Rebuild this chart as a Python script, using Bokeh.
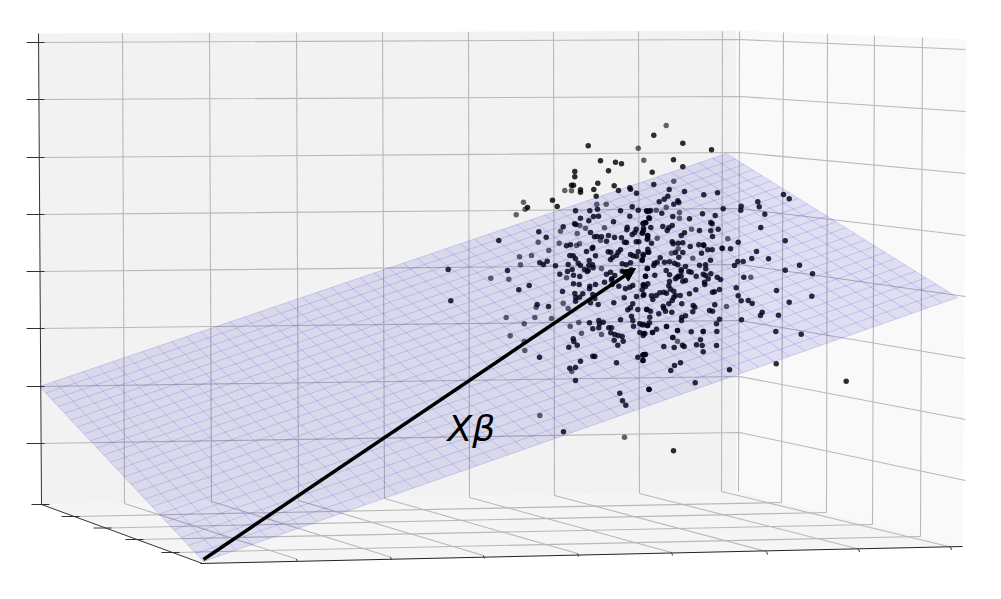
import numpy as np
from bokeh.plotting import figure
from bokeh.models import Range1d, Arrow, NormalHead
from bokeh.core.properties import value
from bokeh.embed import file_html
from bokeh.resources import INLINE

# ---------- wall outlines ----------
left_wall_x = [38, 736, 736, 41]
left_wall_y = [33, 30, 491, 504]
right_wall_x = [736, 966, 962, 736]
right_wall_y = [30, 39, 546, 491]
floor_x = [41, 736, 962, 202]
floor_y = [504, 491, 546, 563]

# ---------- grid readings ----------
wall_v_top_x = [122, 209, 296, 382, 468, 553, 638, 722]
wall_v_top_y = [32.5, 32.3, 32, 31.8, 31.5, 31.2, 31, 30.7]
wall_v_bot_x = [124, 211, 298, 384, 469, 554, 639, 721]
wall_v_bot_y = [503, 501, 500, 498, 497, 495, 493, 491]
side_v_top_x = [739, 783, 827, 874, 922]
side_v_top_y = [31, 32, 33.5, 35, 37]
side_v_bot_x = [738, 781, 826, 872, 920]
side_v_bot_y = [491, 502, 512, 524, 536]
z_left_y = [42, 99, 157, 214, 271, 328, 386, 443]
z_mid_y = [39, 96, 152, 208, 264, 320, 376, 432]
z_right_y = [49, 111, 173, 235, 296, 358, 419, 480]
floor_front_x = [296, 390, 483, 577, 671, 766, 858, 950]
floor_front_y = [558.5, 556.5, 555, 553, 552, 551, 548.5, 546.5]
floor_side_x = [75, 107, 139, 175]
floor_side_y = [516, 527.5, 539, 552]

# ---------- plane corners ----------
plane_x = [39, 726, 957, 203]
plane_y = [386, 153, 297, 561]
mesh_cells_long = 48
mesh_cells_short = 24

# ---------- scatter ----------
dark_x = [587.7,600,615,621,608,574.3,574.3,571,573,580,580,593.3,597.3,613.7,618,629.3,630,636,595.7,527,552,556.7,575,589.3,597,620,631.7,637.7,646.7,650,629.3,598,593,580,588.3,574,575.3,562.7,613,590,626.7,626.3,635.7,631.7,634.3,642.7,645,648.3,643,642,647.3,646.7,538.3,545.7,498.3,566,570,594,596.7,601,608,614,621,606,624,626,635.7,638.3,592.3,591.7,586,595,607.7,610.3,620,617.7,616,612.3,610,630,632.7,636,637.7,642.7,641.7,647.3,569.3,572.7,575,539.3,543,546.7,555,567.7,571.7,567,577.7,580,588.7,584,587.7,592,592.7,588.3,621.7,625.7,630,630.7,621.7,647,447.7,507,559.3,573,579.3,586.7,606,610,614.3,611.3,645,653.3,682.3,711,673,682.3,651.7,653.3,668.7,684,703.3,717,783,788.7,757.3,758.7,764.3,740.7,740.3,722.7,667.3,663.7,658.7,677.3,678.3,673.3,646,648.3,661.3,702,714.7,672.3,689,649,645.3,642.7,710.3,711.7,662.3,671.7,668.3,666.7,650.3,699,710.3,717.7,760.3,643,641.7,684,680.7,647,647.3,712,737.7,784.7,671.7,672.7,677.7,682.3,651,698.3,703,703.3,689.7,707.3,711.7,721.7,730,647.3,648.3,675,682.3,678.3,701,756,751.3,768,710,642.7,641.7,659.7,656.7,654,653.3,664,669,674,677.3,685,680.7,699,705,705.3,737.3,742.7,734,646.7,665.7,680.7,688.3,690.7,710.3,702.7,705,695.7,799,784.7,812,645,654.3,669,677.7,680.7,676.7,675,716.7,720,707.7,743.3,450.3,528.7,518.3,536.7,548,539,563,562,573,578.7,574.3,582.3,579,575.3,575,589.3,595,589,592.3,594.3,590,597.7,604,611,611.7,618.3,625,629.3,632.3,643,641.7,643.3,636,623.7,613.3,632.3,630,627.3,637.3,646,620,631,632.3,633,589,598.3,599,602.7,592.3,598.3,608.3,611,610.3,614.3,617.7,621.7,613.7,622.7,617.3,639.3,643.3,647.3,639.3,643.3,572.7,573.3,576.7,568.3,592.3,594.3,580,616,637.3,642.3,644.3,642.7,569.3,575,575,648.3,619.3,622,625.3,704,704.3,669,682.3,685,668.3,642.7,647.3,645,670,673.3,695.3,689,712,714,719,735.7,737.7,740.7,747.7,751.7,776,788.7,811.3,651,659.3,663.3,666,655.7,652.3,642.7,675,679.7,673.3,671.7,668.3,681.3,662.7,663.3,646.7,650,658.3,665,671.3,692.7,694.3,714.3,692.3,709,712,761.7,760,778,685,681.3,681,649.3,719,741,716,641.7,646.7,649,666,677,690.7,702.7,716.3,775.3,800.7,644.3,642.7,652,656,672.3,663.3,673.7,682,683.7,700,696,701.7,716,702.7,645,642.7,642.3,775.7,845.7,680,674,670.3,729,694.7,648.7,673]
dark_y = [145.3,160.3,161.7,163.3,170.3,171,176.3,184.7,184.7,189.3,191.7,189,182.7,185.3,190,187.3,188.7,192.7,195.7,207,199.7,206,210.3,210.3,208.7,210.3,206.3,209.7,210.7,210,215.7,215.7,216,217.7,220.3,223.3,224,226.3,221.3,232,226.7,229.3,228.7,234,232,222.7,222,217.3,227.7,232.3,235,238.7,231.3,236.7,240,245.3,244.3,236.3,236,236.3,235,237,237.3,240.7,241.7,242,241.3,241.3,246.7,248,251,255.3,251.3,251.7,249.3,251.7,255,256.7,259,254,255.3,256,251.3,254,260,251.7,255,255.3,258.3,262.3,264,260.7,265.3,264,269,271,262.7,265,260,269,270,264.3,267.3,265,263.3,264.3,262.3,269.3,270.7,268,269,270,273.7,274.7,276,271,273.7,271.7,275,278.3,275.7,134.7,142.7,149.3,159.3,166.3,171.7,184,189,191,194.3,192.3,194,198.3,201.3,206.3,213.7,205.7,209.7,208.3,195.7,198.7,201.3,200.3,202,203.7,210.3,210.7,212.7,213.3,215,216,218.3,218,222.3,223,222,223.3,226,225,227.3,230,227,230,230.3,228.7,227,230,232.7,232.3,235,235.3,238,236,241.7,240.3,241.3,243.3,242.7,242.3,242.7,244.3,244.3,245,246,249.3,249.3,247.7,248.3,248.7,251.7,252,252,256.7,252.7,251,258,258.3,259.7,255.3,259.3,257.3,261.7,262.7,265,261.7,261.3,262.7,264.3,266,269.3,264.7,264.3,268.3,261,261,265,268,270,271,271,271.7,273.3,273.7,275,275.7,264.7,269.7,273.3,275.7,274.7,274.3,275.7,275.7,276.7,278.3,276.7,279,278.3,276.7,300.3,285,289.3,304,306,356.7,431.3,291,283.3,284,293,293.3,296.7,297.3,300.7,285.7,284,288.3,294,298,302.3,304,281.7,279.3,284,285.7,288.3,286.7,285,284,289.3,294,296,297.3,302.3,303.3,307.3,309.3,309,309,319.3,315.7,320,325.7,322.3,320,323.3,321.7,328.3,327.3,327.3,327.3,332.3,334,335,336,339.7,340.7,344.7,323.3,324.3,325,332,333,338.3,341,344.7,346.7,355.7,356,360.7,362.3,356.7,354.7,354,360,367.7,367,380,388.7,392.7,400.3,404.7,281.7,284,281,280.7,280,285.3,285,283.3,286,288.7,290.7,289.3,293.3,291.7,291.3,289,287.3,295.3,300.3,300,303,290,301.7,295.7,295.3,292.3,291.7,292.7,295,299,295,295,295,296.7,300,303.3,303.3,305.7,307.7,309,310.7,313.3,310.7,311.7,305,306.7,304.3,311.3,310,310.7,311.7,315,314.7,315.3,316.7,320,316.7,318.7,319.3,323.3,324.3,325,322.3,326,330,331.3,331,331,331,333.7,333,335,332,328.7,337,346,347,344.7,346,339.3,344.3,345,345,351.3,354,354.3,360,363.3,380.7,362.3,365,370,369.3,382.3,389,450.3]
grey_x = [637.7,643.3,564.3,571,523,524.7,515.7,596.3,605.7,579.3,585,604,576.7,560,537.7,558.7,548.3,576,579,600,519,531,520,601,490.3,508.3,665.7,673.3,665.7,655.7,679,679,691,656.7,727.3,677.7,721.7,671,692.3,750.3,566,505.7,534.3,551,523.7,509.7,523.7,524.3,539.3,624,562.7,567.7,535.7,578.3,569.7,581,601,571.3,726,666,677,672.3,677,702.7,652]
grey_y = [147.7,159.7,190,190.3,201.7,208.7,214.3,203.7,203.7,225,227.7,227.3,233,230.7,241.7,242.7,250,245,243.3,240,256.3,255,264.3,268,277.7,278.7,125,180.7,206.7,209.7,212,217.7,228.7,237.7,238.3,248.3,247.7,252.7,257.7,276.7,277.3,317,317,318,323.3,335.3,341,350,415,436.7,302.7,308,306.7,322,325.7,332.7,334,371,306,326,330,337,340.7,331,332]

# ---------- arrow and label ----------
arrow_start = (203, 559)
arrow_end = (635, 268)
label_text = "Xβ"
label_pos = (447, 428)

# ---------- figure: data units are window pixels ----------
WIDTH, HEIGHT = 985, 583
p = figure(width=WIDTH, height=HEIGHT, output_backend="svg", toolbar_location=None,
           x_range=Range1d(0, WIDTH), y_range=Range1d(HEIGHT, 0),
           min_border=0, outline_line_color=None, background_fill_color="white",
           border_fill_color="white")
p.axis.visible = False
p.grid.visible = False

p.patch(left_wall_x, left_wall_y, fill_color="#f2f2f2", line_color=None)
p.patch(right_wall_x, right_wall_y, fill_color="#f9f9f9", line_color=None)
p.patch(floor_x, floor_y, fill_color="#f5f5f5", line_color=None)

GRID = "#b8b8b8"
gx, gy = [], []
for a, b, c, d in zip(wall_v_top_x, wall_v_top_y, wall_v_bot_x, wall_v_bot_y):
    gx.append([a, c]); gy.append([b, d])
for a, b, c, d in zip(side_v_top_x, side_v_top_y, side_v_bot_x, side_v_bot_y):
    gx.append([a, c]); gy.append([b, d])
for yl, ym, yr in zip(z_left_y, z_mid_y, z_right_y):
    gx.append([38, 739, 965]); gy.append([yl, ym, yr])
for a, b, c, d in zip(wall_v_bot_x, wall_v_bot_y, floor_front_x, floor_front_y):
    gx.append([a, c]); gy.append([b, d])
for a, b, c, d in zip(floor_side_x, floor_side_y, side_v_bot_x[1:], side_v_bot_y[1:]):
    gx.append([a, c]); gy.append([b, d])
p.multi_line(gx, gy, line_color=GRID, line_width=1.1)

# axes
p.line([38, 41], [33, 504], line_color="#333333", line_width=1)
p.line([41, 202], [504, 563], line_color="#333333", line_width=1)
p.line([200, 962], [563, 546], line_color="#222222", line_width=1)
tx, ty = [], []
for i, y in enumerate(z_left_y):
    tx.append([26, 44]); ty.append([y, y])
tx.append([31, 49]); ty.append([504, 504])
for x, y in zip(floor_side_x, floor_side_y):
    tx.append([x - 14, x + 4]); ty.append([y, y])
for x, y in zip(floor_front_x, floor_front_y):
    tx.append([x, x + 1]); ty.append([y, y + 3])
p.multi_line(tx, ty, line_color="#333333", line_width=1)

# scatter lies behind the translucent plane
p.scatter(grey_x, grey_y, size=5.5, fill_color="black", fill_alpha=0.6, line_color=None)
p.scatter(dark_x, dark_y, size=5.5, fill_color="black", fill_alpha=0.82, line_color=None)

p.patch(plane_x, plane_y, fill_color="#0000b4", fill_alpha=0.1, line_color=None)

# perspective mapping of the plane's grid
src = np.array([[0, 0], [1, 0], [1, 1], [0, 1]], float)
A, rhs = [], []
for (u, v), x, y in zip(src, plane_x, plane_y):
    A.append([u, v, 1, 0, 0, 0, -u * x, -v * x]); rhs.append(x)
    A.append([0, 0, 0, u, v, 1, -u * y, -v * y]); rhs.append(y)
H = np.append(np.linalg.solve(np.array(A), np.array(rhs)), 1).reshape(3, 3)

def project(u, v):
    w = H @ np.array([u, v, 1.0])
    return w[0] / w[2], w[1] / w[2]

mx, my = [], []
for t in np.linspace(0, 1, mesh_cells_long + 1):
    a, b = project(t, 0), project(t, 1)
    mx.append([a[0], b[0]]); my.append([a[1], b[1]])
for t in np.linspace(0, 1, mesh_cells_short + 1):
    a, b = project(0, t), project(1, t)
    mx.append([a[0], b[0]]); my.append([a[1], b[1]])
p.multi_line(mx, my, line_color="#3030e0", line_alpha=0.2, line_width=0.9)

# arrow
p.add_layout(Arrow(end=NormalHead(size=13, fill_color="black", line_color="black"),
                   x_start=arrow_start[0], y_start=arrow_start[1],
                   x_end=arrow_end[0], y_end=arrow_end[1],
                   line_color="black", line_width=3.5))

p.text([label_pos[0]], [label_pos[1]], text=[label_text], text_font=value("DejaVu Sans"),
       text_font_style="italic", text_font_size="36px", text_baseline="alphabetic",
       text_align="left", text_color="black")

open("out.html", "w").write(file_html(p, INLINE))
